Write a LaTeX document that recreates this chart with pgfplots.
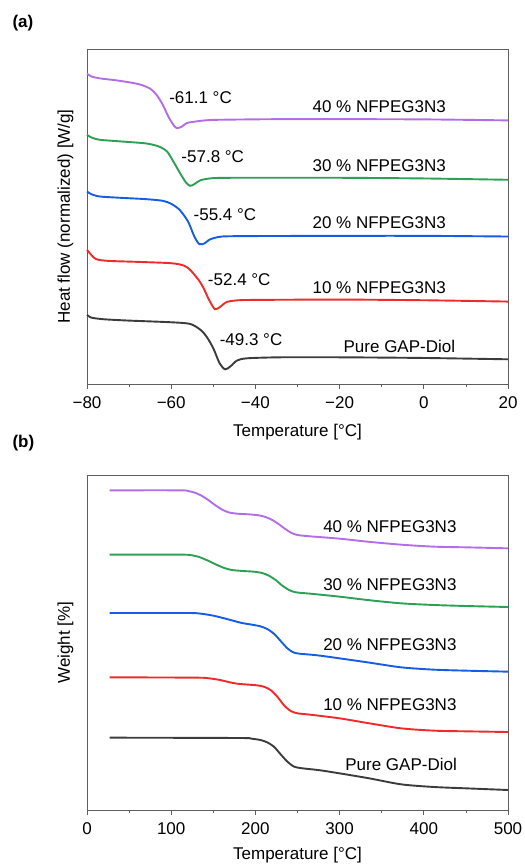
\documentclass[border=0pt]{standalone}
\usepackage{pgfplots}
\pgfplotsset{compat=1.18}
\usepackage{fontspec}
\setmainfont{Liberation Sans}
\definecolor{cpurple}{RGB}{178,110,230}
\definecolor{cgreen}{RGB}{45,160,85}
\definecolor{cblue}{RGB}{22,92,228}
\definecolor{cred}{RGB}{240,42,42}
\definecolor{cblack}{RGB}{60,60,60}
\definecolor{caxis}{RGB}{95,95,95}
\newcommand{\fs}{\fontsize{17}{20}\selectfont}
\pgfplotsset{
  common/.style={
    scale only axis,
    anchor=south west,
    width=421pt, height=335pt,
    axis line style={caxis, line width=0.9pt},
    ytick=\empty,
    xtick pos=bottom,
    tick align=outside,
    major tick length=5pt,
    minor tick length=3pt,
    minor x tick num=1,
    every tick/.style={caxis, line width=0.8pt},
    tick label style={font=\fs},
    xticklabel style={yshift=-4pt},
    label style={font=\fs},
    ylabel style={yshift=5pt},
    /pgf/number format/assume math mode=true,
    clip=false,
  },
  every axis plot/.append style={smooth, tension=0.45, line width=1.9pt, no markers},
}
\begin{document}
\begin{tikzpicture}[x=1pt,y=1pt]
\useasboundingbox (0,0) rectangle (525,868);
\node[anchor=west, font=\fs\bfseries] at (9,845) {(a)};
\node[anchor=west, font=\fs\bfseries] at (9,425) {(b)};
\begin{axis}[common, at={(87pt,484pt)},
  xmin=-80, xmax=20, ymin=0, ymax=1004,
  xtick={-80,-60,-40,-20,0,20},
  xticklabels={−80,−60,−40,−20,0,20},
  xlabel={Temperature [°C]},
  xlabel style={yshift=-9pt},
  ylabel={Heat flow (normalized) [W/g]},
]
\addplot[cpurple] coordinates {(-80,930)(-79,922)(-77,916)(-73,910)(-69,902)(-67,896)(-65,885)(-63.5,867)(-62,837)(-60.7,802)(-59.5,777)(-58.7,767)(-57.5,771)(-56.3,782)(-54,787)(-52,790)(-48,792)(-30,794)(0,793)(20,790)};
\addplot[cgreen] coordinates {(-80,747)(-79,739)(-77,732)(-72,727)(-66,721)(-63,712)(-61,697)(-59.5,667)(-57.9,632)(-56.5,604)(-55.5,594)(-54.5,599)(-53,611)(-50,617)(-45,618)(-20,618)(0,616)(20,612)};
\addplot[cblue] coordinates {(-80,577)(-79,569)(-77,562)(-72,558)(-66,554)(-62,549)(-60,540)(-58,522)(-56,487)(-54.5,442)(-53.3,419)(-52,422)(-51,432)(-49,440)(-45,443)(-20,444)(0,444)(20,442)};
\addplot[cred] coordinates {(-80,402)(-79,387)(-77.8,374)(-75,369)(-68,366)(-60,362)(-57,355)(-55.5,342)(-53.5,312)(-52.3,287)(-51,252)(-49.6,224)(-48.3,232)(-46.8,246)(-44,251)(-40,252)(-20,253)(0,251)(20,247)};
\addplot[cblack] coordinates {(-80,207)(-79,199)(-76,194)(-70,190)(-60,185)(-55.5,180)(-53,162)(-51.5,140)(-50,107)(-48.5,62)(-47.2,44)(-46,52)(-44.4,70)(-42,77)(-34,80)(-20,80)(0,78)(20,74)};
\node[font=\fs, anchor=west] at (axis cs:-61.3,857) {-61.1 °C};
\node[font=\fs, anchor=west] at (axis cs:-58.4,682) {-57.8 °C};
\node[font=\fs, anchor=west] at (axis cs:-55.5,507) {-55.4 °C};
\node[font=\fs, anchor=west] at (axis cs:-52.1,312) {-52.4 °C};
\node[font=\fs, anchor=west] at (axis cs:-49.3,134) {-49.3 °C};
\node[font=\fs] at (axis cs:-10.6,830) {40 \% NFPEG3N3};
\node[font=\fs] at (axis cs:-10.6,654) {30 \% NFPEG3N3};
\node[font=\fs] at (axis cs:-10.6,484) {20 \% NFPEG3N3};
\node[font=\fs] at (axis cs:-10.6,290) {10 \% NFPEG3N3};
\node[font=\fs] at (axis cs:-5.8,112) {Pure GAP-Diol};
\end{axis}
\begin{axis}[common, at={(87pt,58pt)},
  xmin=0, xmax=500, ymin=0, ymax=1005,
  xtick={0,100,200,300,400,500},
  xlabel={Temperature [°C]},
  xlabel style={yshift=-6pt},
  ylabel={Weight [\%]},
]
\addplot[cpurple] coordinates {(27,959)(110,959)(120,957)(128,952)(136,943)(144,930)(152,915)(160,902)(168,893)(178,889)(192,887)(204,884)(212,879)(220,870)(228,857)(236,842)(243,831)(250,825)(265,821)(300,814)(333,805)(373,796)(412,790)(450,788)(500,785)};
\addplot[cgreen] coordinates {(27,766)(110,766)(122,765)(132,760)(142,750)(152,738)(162,727)(172,720)(185,717)(198,715)(208,711)(216,703)(224,690)(232,673)(240,660)(248,653)(265,649)(300,640)(333,630)(373,620)(412,615)(450,612)(500,609)};
\addplot[cblue] coordinates {(27,591)(120,591)(135,589)(148,584)(160,577)(172,569)(184,561)(196,556)(206,551)(214,543)(222,529)(230,507)(238,485)(245,473)(252,469)(277,463)(333,443)(373,428)(412,421)(450,418)(500,415)};
\addplot[cred] coordinates {(27,398)(130,397)(145,395)(158,390)(168,384)(178,379)(192,376)(202,374)(210,370)(218,360)(226,340)(234,314)(242,297)(250,290)(265,286)(300,275)(333,261)(373,245)(412,238)(450,236)(500,234)};
\addplot[cblack] coordinates {(27,217)(180,216)(195,214)(206,210)(214,203)(222,190)(230,167)(238,145)(246,130)(256,125)(280,118)(333,96)(373,77)(412,69)(450,65)(500,60)};
\node[font=\fs] at (axis cs:359.7,850) {40 \% NFPEG3N3};
\node[font=\fs] at (axis cs:359.7,677) {30 \% NFPEG3N3};
\node[font=\fs] at (axis cs:359.7,497) {20 \% NFPEG3N3};
\node[font=\fs] at (axis cs:359.7,317) {10 \% NFPEG3N3};
\node[font=\fs] at (axis cs:373,137) {Pure GAP-Diol};
\end{axis}
\end{tikzpicture}
\end{document}
